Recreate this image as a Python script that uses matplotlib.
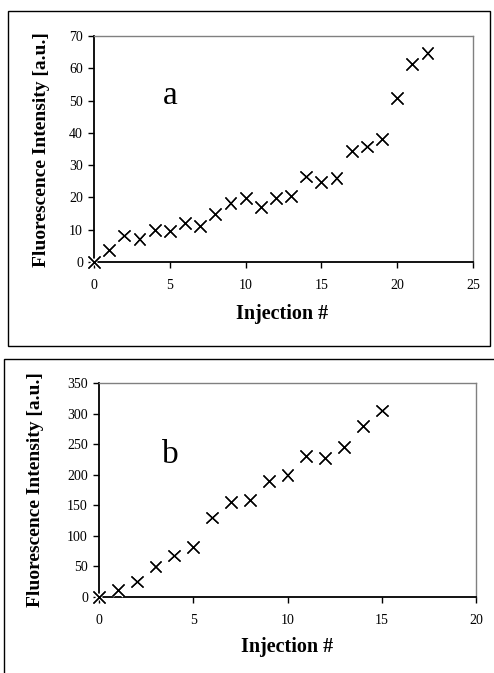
import matplotlib
matplotlib.use("Agg")
import matplotlib.pyplot as plt
import matplotlib.patheffects as pe
from matplotlib.patches import Rectangle

# Panel a data
inj_a = list(range(23))
fl_a = [0, 3.6, 8.2, 7.1, 10.0, 9.7, 12.2, 11.1, 14.9, 18.3, 19.9, 17.0, 19.9,
        20.5, 26.5, 24.8, 25.9, 34.3, 35.8, 38.1, 50.8, 61.3, 64.8]

# Panel b data
inj_b = list(range(16))
fl_b = [0, 12, 25.5, 50, 68, 81.5, 130, 155, 159, 190, 200, 231, 227, 245, 280, 305]

xticks_a = [0, 5, 10, 15, 20, 25]
yticks_a = [0, 10, 20, 30, 40, 50, 60, 70]
xticks_b = [0, 5, 10, 15, 20]
yticks_b = [0, 50, 100, 150, 200, 250, 300, 350]

plt.rcParams['font.family'] = ['Liberation Serif', 'DejaVu Serif']

W, H = 494, 673
fig = plt.figure(figsize=(W / 100, H / 100), dpi=100)


def fx(px):
    return px / W


def fy(py):
    return 1 - py / H


# panel frames
fig.patches.append(Rectangle((fx(8), fy(346)), fx(490) - fx(8), fy(11) - fy(346),
                             transform=fig.transFigure, fill=False, edgecolor='black',
                             linewidth=1.0, zorder=0))
fig.patches.append(Rectangle((fx(4), fy(700)), fx(520) - fx(4), fy(359) - fy(700),
                             transform=fig.transFigure, fill=False, edgecolor='black',
                             linewidth=1.0, zorder=0))


def make_panel(rect, x, y, xticks, yticks, letter, letter_xy, ylab_x, xlab_y, xlab_x, ylab_y):
    ax = fig.add_axes(rect)
    ax.plot(x, y, linestyle='none', marker='x', markersize=8.5, markeredgewidth=1.0,
            color='black', clip_on=False, zorder=5,
            path_effects=[pe.withStroke(linewidth=3, foreground='white'), pe.Normal()])
    ax.set_xlim(xticks[0], xticks[-1])
    ax.set_ylim(yticks[0], yticks[-1])
    ax.set_xticks(xticks)
    ax.set_yticks(yticks)
    ax.tick_params(axis='both', direction='out', length=4, width=1, labelsize=10, color='black')
    ax.tick_params(axis='x', pad=8)
    ax.tick_params(axis='y', pad=4)
    for s in ['left', 'bottom']:
        ax.spines[s].set_linewidth(1.3)
        ax.spines[s].set_color('black')
    for s in ['top', 'right']:
        ax.spines[s].set_linewidth(1.0)
        ax.spines[s].set_color('#808080')
    ax.tick_params(axis='both', which='both', top=False, right=False)
    fig.text(fx(letter_xy[0]), fy(letter_xy[1]), letter, fontsize=24,
             ha='center', va='center')
    fig.text(fx(ylab_x), fy(ylab_y), 'Fluorescence Intensity [a.u.]', fontsize=14,
             fontweight='bold', rotation=90, ha='center', va='center')
    fig.text(fx(xlab_x), fy(xlab_y), 'Injection #', fontsize=14.5,
             fontweight='bold', ha='center', va='center')
    return ax


make_panel([fx(94), fy(262), fx(473) - fx(94), fy(36) - fy(262)],
           inj_a, fl_a, xticks_a, yticks_a, 'a', (170, 96), 42, 314, 282, 150)
make_panel([fx(99), fy(597), fx(476) - fx(99), fy(383) - fy(597)],
           inj_b, fl_b, xticks_b, yticks_b, 'b', (170, 455), 36, 647, 287, 490)

fig.savefig('out.png', dpi=100)
